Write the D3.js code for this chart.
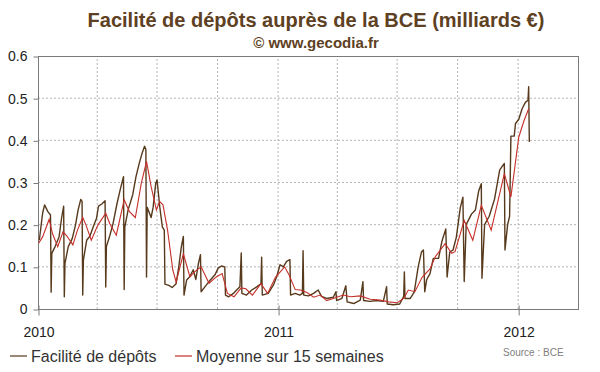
<!DOCTYPE html>
<html>
<head>
<meta charset="utf-8">
<script src="https://cdnjs.cloudflare.com/ajax/libs/d3/7.8.5/d3.min.js"></script>
<style>
  html, body { margin: 0; padding: 0; background: #fff; }
  svg { display: block; font-family: "Liberation Sans", Arial, sans-serif; }
</style>
</head>
<body>
<div id="chart"></div>
<script>
'use strict';

// Facilité de dépôts (daily readings, milliards €)
var depotDates = [
  '2010-01-03','2010-01-08','2010-01-11','2010-01-16','2010-01-20','2010-01-21','2010-01-22','2010-01-27',
  '2010-02-02','2010-02-06','2010-02-09','2010-02-10','2010-02-11','2010-02-16','2010-02-22','2010-02-27',
  '2010-03-03','2010-03-07','2010-03-09','2010-03-10','2010-03-11','2010-03-16','2010-03-21','2010-03-26','2010-03-31',
  '2010-04-03','2010-04-08','2010-04-13','2010-04-14','2010-04-15','2010-04-20','2010-04-25',
  '2010-05-01','2010-05-06','2010-05-11','2010-05-12','2010-05-13','2010-05-18','2010-05-25','2010-05-30',
  '2010-06-04','2010-06-08','2010-06-12','2010-06-14','2010-06-15','2010-06-16','2010-06-22','2010-06-25','2010-06-29',
  '2010-07-01','2010-07-05','2010-07-09','2010-07-12','2010-07-13','2010-07-19','2010-07-24','2010-07-30',
  '2010-08-03','2010-08-07','2010-08-10','2010-08-11','2010-08-15','2010-08-20','2010-08-25','2010-08-29',
  '2010-09-02','2010-09-05','2010-09-06','2010-09-12','2010-09-20','2010-09-27',
  '2010-10-02','2010-10-07','2010-10-12','2010-10-13','2010-10-18','2010-10-25','2010-10-30',
  '2010-11-04','2010-11-06','2010-11-07','2010-11-14','2010-11-22','2010-11-30',
  '2010-12-06','2010-12-07','2010-12-08','2010-12-17','2010-12-25','2010-12-30',
  '2011-01-04','2011-01-09','2011-01-14','2011-01-19','2011-01-20','2011-01-27',
  '2011-02-03','2011-02-07','2011-02-08','2011-02-09','2011-02-16','2011-02-24',
  '2011-03-03','2011-03-08','2011-03-16','2011-03-26','2011-03-30','2011-03-31',
  '2011-04-08','2011-04-14','2011-04-16','2011-04-26',
  '2011-05-06','2011-05-10','2011-05-11','2011-05-21','2011-05-31',
  '2011-06-10','2011-06-15','2011-06-16','2011-06-25',
  '2011-07-05','2011-07-11','2011-07-12','2011-07-13','2011-07-21','2011-07-27',
  '2011-08-02','2011-08-07','2011-08-10','2011-08-12','2011-08-15','2011-08-20','2011-08-25',
  '2011-09-02','2011-09-07','2011-09-13','2011-09-15','2011-09-19','2011-09-24','2011-09-29',
  '2011-10-05','2011-10-09','2011-10-11','2011-10-14','2011-10-22','2011-10-28',
  '2011-11-02','2011-11-06','2011-11-07','2011-11-11','2011-11-18','2011-11-26',
  '2011-12-04','2011-12-11','2011-12-12','2011-12-16','2011-12-19','2011-12-21','2011-12-26','2011-12-28',
  '2012-01-02','2012-01-07','2012-01-12','2012-01-16','2012-01-17','2012-01-18'
];
var depotValues = [
  0.163,0.227,0.247,0.231,0.223,0.040,0.132,0.148,
  0.171,0.217,0.244,0.029,0.108,0.148,0.167,0.199,
  0.235,0.260,0.255,0.033,0.116,0.163,0.173,0.195,0.215,
  0.244,0.249,0.257,0.052,0.148,0.173,0.202,
  0.249,0.283,0.314,0.046,0.195,0.235,0.271,0.314,
  0.346,0.368,0.386,0.378,0.076,0.241,0.217,0.241,0.298,
  0.306,0.244,0.195,0.187,0.059,0.056,0.051,0.060,
  0.100,0.148,0.172,0.033,0.069,0.077,0.093,0.070,
  0.109,0.129,0.041,0.053,0.069,0.081,
  0.097,0.102,0.100,0.033,0.029,0.037,0.045,
  0.053,0.133,0.037,0.033,0.045,0.053,
  0.060,0.123,0.033,0.037,0.057,0.077,
  0.105,0.100,0.113,0.117,0.033,0.037,
  0.033,0.037,0.138,0.033,0.031,0.037,
  0.045,0.030,0.025,0.028,0.041,0.020,
  0.025,0.055,0.017,0.013,
  0.021,0.065,0.020,0.018,0.020,
  0.018,0.053,0.012,0.010,
  0.012,0.030,0.088,0.025,0.025,0.040,
  0.100,0.135,0.140,0.041,0.070,0.084,0.120,
  0.120,0.160,0.190,0.076,0.135,0.140,0.170,
  0.240,0.265,0.065,0.200,0.225,0.235,
  0.280,0.297,0.073,0.200,0.220,0.260,
  0.330,0.345,0.140,0.200,0.220,0.410,0.410,0.440,
  0.450,0.475,0.490,0.495,0.527,0.396
];

// Moyenne sur 15 semaines
var avgDates = [
  '2010-01-02','2010-01-08','2010-01-18','2010-01-23','2010-01-31','2010-02-08','2010-02-14','2010-02-23',
  '2010-03-02','2010-03-10','2010-03-15','2010-03-23','2010-04-02','2010-04-14','2010-04-20','2010-04-30',
  '2010-05-12','2010-05-20','2010-05-29','2010-06-07','2010-06-15','2010-06-22','2010-06-30',
  '2010-07-05','2010-07-10','2010-07-17','2010-07-25','2010-07-30','2010-08-10','2010-08-20','2010-08-27',
  '2010-09-06','2010-09-18','2010-09-29','2010-10-08','2010-10-16','2010-10-26','2010-11-06','2010-11-13',
  '2010-11-23','2010-12-06','2010-12-16','2010-12-28',
  '2011-01-11','2011-01-18','2011-01-27','2011-02-04','2011-02-14','2011-02-24','2011-03-06','2011-03-16',
  '2011-03-26','2011-04-10','2011-04-21','2011-05-06','2011-05-21','2011-06-05','2011-06-18','2011-07-01',
  '2011-07-11','2011-07-18','2011-07-28','2011-08-08','2011-08-20','2011-08-28','2011-09-12','2011-09-22',
  '2011-09-27','2011-10-11','2011-10-24','2011-11-06','2011-11-21','2011-12-11','2011-12-21',
  '2012-01-02','2012-01-10','2012-01-17'
];
var avgValues = [
  0.156,0.171,0.213,0.179,0.148,0.183,0.173,0.152,
  0.187,0.217,0.199,0.163,0.199,0.227,0.203,0.175,
  0.259,0.231,0.217,0.298,0.350,0.290,0.235,
  0.255,0.247,0.187,0.092,0.064,0.131,0.076,0.088,
  0.100,0.061,0.076,0.084,0.037,0.029,0.050,0.048,
  0.033,0.060,0.037,0.075,
  0.100,0.080,0.046,0.045,0.039,0.028,0.033,0.020,
  0.025,0.033,0.029,0.031,0.023,0.021,0.017,0.015,
  0.025,0.045,0.041,0.075,0.095,0.124,0.155,0.132,
  0.136,0.210,0.163,0.246,0.187,0.321,0.266,
  0.408,0.447,0.475
];

var yTicks = [0, 0.1, 0.2, 0.3, 0.4, 0.5, 0.6];
var yearTicks = ['2010-01-01', '2011-01-01', '2012-01-01'];
var xDomain = ['2010-01-01', '2012-04-01'];

var width = 600, height = 372;
var margin = {top: 56, right: 22, bottom: 63, left: 38};
var parse = d3.timeParse('%Y-%m-%d');

var depot = depotDates.map(function (d, i) { return {date: parse(d), value: depotValues[i]}; });
var avg = avgDates.map(function (d, i) { return {date: parse(d), value: avgValues[i]}; });

var svg = d3.select('#chart')
    .append('svg')
    .attr('width', width)
    .attr('height', height);

var x = d3.scaleTime()
    .domain(xDomain.map(parse))
    .range([margin.left, width - margin.right]);

var y = d3.scaleLinear()
    .domain([0, 0.6])
    .range([height - margin.bottom, margin.top]);

// title
svg.append('text')
    .attr('x', 316).attr('y', 27)
    .attr('text-anchor', 'middle')
    .style('font-size', '20px').style('font-weight', 'bold')
    .style('fill', '#5e4022')
    .text('Facilité de dépôts auprès de la BCE (milliards €)');
svg.append('text')
    .attr('x', 316).attr('y', 48)
    .attr('text-anchor', 'middle')
    .style('font-size', '15px').style('font-weight', 'bold')
    .style('fill', '#5e4022')
    .text('© www.gecodia.fr');

// dotted grid, quarterly on x
var quarters = d3.timeMonth.every(3).range(x.domain()[0], x.domain()[1]).slice(1);
svg.append('g').selectAll('line')
    .data(quarters)
    .enter().append('line')
    .attr('x1', function (d) { return x(d); })
    .attr('x2', function (d) { return x(d); })
    .attr('y1', y(0)).attr('y2', y(0.6))
    .attr('stroke', '#b4b4b4').attr('stroke-dasharray', '2,2');
svg.append('g').selectAll('line')
    .data(yTicks.slice(1, -1))
    .enter().append('line')
    .attr('x1', x.range()[0]).attr('x2', x.range()[1])
    .attr('y1', function (d) { return y(d); })
    .attr('y2', function (d) { return y(d); })
    .attr('stroke', '#b4b4b4').attr('stroke-dasharray', '2,2');

// frame
svg.append('rect')
    .attr('x', x.range()[0] + 0.5).attr('y', y(0.6) + 0.5)
    .attr('width', x.range()[1] - x.range()[0])
    .attr('height', y(0) - y(0.6))
    .attr('fill', 'none').attr('stroke', '#7a7a7a');

// axes
var yAxis = svg.append('g')
    .attr('transform', 'translate(' + (margin.left + 0.5) + ',0.5)')
    .call(d3.axisLeft(y).tickValues(yTicks).tickSize(5).tickPadding(6)
        .tickFormat(function (d) { return d === 0 ? '0' : d3.format('.1f')(d); }));
yAxis.select('.domain').remove();
yAxis.selectAll('line').attr('stroke', '#7a7a7a');
yAxis.selectAll('text').style('font-size', '14px').style('fill', '#222')
    .style('font-family', '"Liberation Sans", Arial, sans-serif');

var xAxis = svg.append('g')
    .attr('transform', 'translate(0.5,' + (y(0) + 0.5) + ')')
    .call(d3.axisBottom(x).tickValues(yearTicks.map(parse)).tickSize(6).tickPadding(12)
        .tickFormat(d3.timeFormat('%Y')));
xAxis.select('.domain').remove();
xAxis.selectAll('line').attr('stroke', '#7a7a7a').attr('y1', -4);
xAxis.selectAll('text').style('font-size', '14px').style('fill', '#222')
    .style('font-family', '"Liberation Sans", Arial, sans-serif');

// series
var line = d3.line()
    .x(function (d) { return x(d.date); })
    .y(function (d) { return y(d.value); });

svg.append('path')
    .datum(depot)
    .attr('d', line)
    .attr('fill', 'none')
    .attr('stroke', '#57391c')
    .attr('stroke-width', 1.4)
    .attr('stroke-linejoin', 'round');

svg.append('path')
    .datum(avg)
    .attr('d', line)
    .attr('fill', 'none')
    .attr('stroke', '#c4302a')
    .attr('stroke-width', 1.1);

// legend
var legend = [
    {label: 'Facilité de dépôts', color: '#57391c', x: 10},
    {label: 'Moyenne sur 15 semaines', color: '#c4302a', x: 175}
];
var lg = svg.append('g').selectAll('g')
    .data(legend)
    .enter().append('g')
    .attr('transform', function (d) { return 'translate(' + d.x + ',356)'; });
lg.append('line')
    .attr('x1', 0).attr('x2', 17)
    .attr('stroke', function (d) { return d.color; })
    .attr('stroke-width', 1.2);
lg.append('text')
    .attr('x', 21).attr('y', 6)
    .style('font-size', '16px').style('fill', '#333')
    .text(function (d) { return d.label; });

svg.append('text')
    .attr('x', 503).attr('y', 356)
    .style('font-size', '10px').style('fill', '#808080')
    .text('Source : BCE');
</script>
</body>
</html>
